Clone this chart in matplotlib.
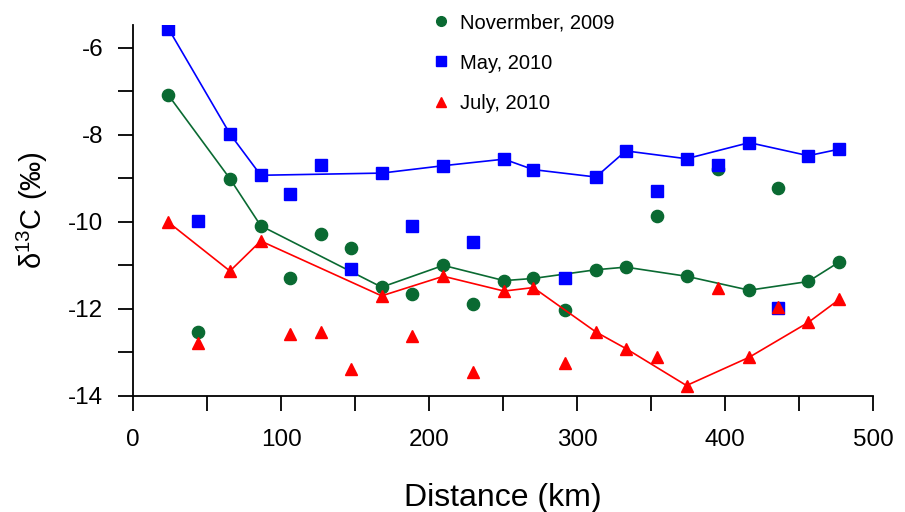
import matplotlib.pyplot as plt
from matplotlib.lines import Line2D
from matplotlib.ticker import MultipleLocator

plt.rcParams['font.family'] = ['Liberation Sans', 'DejaVu Sans']
plt.rcParams['mathtext.default'] = 'regular'
plt.rcParams['axes.unicode_minus'] = False

# stations joined by the lines (km)
line_km = [23.9, 65.5, 86.3, 168, 209.7, 250.7, 270.5, 312.8, 333, 374, 416.4, 456.3, 477.3]
# stations plotted as loose points (km)
point_km = [43.7, 106, 127, 147.3, 188.3, 229.5, 292, 353.8, 395, 436]

nov_line = [-7.09, -9.01, -10.09, -11.50, -11.00, -11.35, -11.30, -11.10, -11.04, -11.25, -11.57, -11.37, -10.92]
nov_pts = [-12.53, -11.30, -10.27, -10.61, -11.66, -11.88, -12.02, -9.86, -8.78, -9.22]

may_line = [-5.56, -7.98, -8.93, -8.88, -8.71, -8.56, -8.80, -8.97, -8.37, -8.55, -8.18, -8.48, -8.33]
may_pts = [-9.97, -9.36, -8.69, -11.08, -10.10, -10.47, -11.28, -9.28, -8.69, -11.99]

jul_line = [-10.01, -11.13, -10.44, -11.70, -11.25, -11.59, -11.51, -12.53, -12.91, -13.76, -13.11, -12.31, -11.78]
jul_pts = [-12.79, -12.58, -12.53, -13.37, -12.63, -13.44, -13.24, -13.11, -11.51, -11.95]

labels = ['Novermber, 2009', 'May, 2010', 'July, 2010']
colors = ['#0a6a32', '#0000ff', '#ff0000']
markers = ['o', 's', '^']

fig = plt.figure(figsize=(9.05, 5.12), dpi=100)
ax = fig.add_axes([0.147, 0.2266, 0.8176, 0.7244])

series = [(nov_line, nov_pts), (may_line, may_pts), (jul_line, jul_pts)]
for (yl, yp), c, m in zip(series, colors, markers):
    ms = 9.2 if m == '^' else 8.8
    ax.plot(line_km, yl, color=c, lw=1.2, marker=m, ms=ms, mec=c, mfc=c)
    ax.plot(point_km, yp, ls='none', marker=m, ms=ms, mec=c, mfc=c)

ax.set_xlim(0, 500)
ax.set_ylim(-14, -5.48)
ax.xaxis.set_major_locator(MultipleLocator(100))
ax.xaxis.set_minor_locator(MultipleLocator(50))
ax.yaxis.set_major_locator(MultipleLocator(2))
ax.yaxis.set_minor_locator(MultipleLocator(1))
ax.tick_params(which='both', direction='out', length=11, width=1.3, labelsize=17.5, pad=10.5)
ax.tick_params(axis='x', pad=12.5)

for s in ['top', 'right']:
    ax.spines[s].set_visible(False)
for s in ['left', 'bottom']:
    ax.spines[s].set_linewidth(1.3)

ax.set_xlabel('Distance (km)', fontsize=23, labelpad=23.5)
ax.set_ylabel(r'$\delta^{13}$C (‰)', fontsize=21, labelpad=13)

handles = [Line2D([], [], ls='none', marker=m, color=c, ms=7) for m, c in zip(markers, colors)]
ax.legend(handles, labels, loc='upper left', bbox_to_anchor=(0.3785, 1.081), frameon=False,
          fontsize=14.5, labelspacing=1.06, handlelength=1, handletextpad=0.45)

fig.savefig('out.png', dpi=100)
